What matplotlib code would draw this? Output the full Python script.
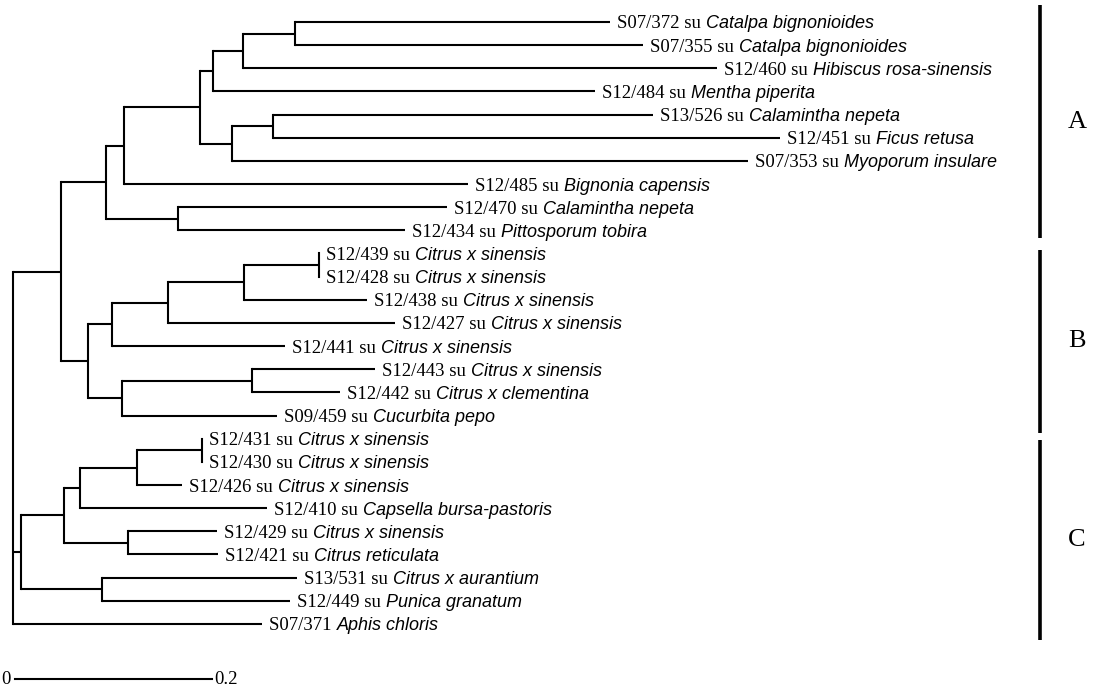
import matplotlib
matplotlib.use("Agg")
import matplotlib.pyplot as plt

# leaves, top to bottom
isolates = [
    "S07/372 su", "S07/355 su", "S12/460 su", "S12/484 su", "S13/526 su",
    "S12/451 su", "S07/353 su", "S12/485 su", "S12/470 su", "S12/434 su",
    "S12/439 su", "S12/428 su", "S12/438 su", "S12/427 su", "S12/441 su",
    "S12/443 su", "S12/442 su", "S09/459 su",
    "S12/431 su", "S12/430 su", "S12/426 su", "S12/410 su", "S12/429 su",
    "S12/421 su", "S13/531 su", "S12/449 su", "S07/371",
]
hosts = [
    "Catalpa bignonioides", "Catalpa bignonioides", "Hibiscus rosa-sinensis",
    "Mentha piperita", "Calamintha nepeta", "Ficus retusa", "Myoporum insulare",
    "Bignonia capensis", "Calamintha nepeta", "Pittosporum tobira",
    "Citrus x sinensis", "Citrus x sinensis", "Citrus x sinensis",
    "Citrus x sinensis", "Citrus x sinensis", "Citrus x sinensis",
    "Citrus x clementina", "Cucurbita pepo",
    "Citrus x sinensis", "Citrus x sinensis", "Citrus x sinensis",
    "Capsella bursa-pastoris", "Citrus x sinensis", "Citrus reticulata",
    "Citrus x aurantium", "Punica granatum", "Aphis chloris",
]
# distance from root to each tip
tip_depth = [
    0.6061, 0.6396, 0.7147, 0.5909, 0.6497, 0.7787, 0.7462, 0.4619, 0.4406, 0.3980,
    0.3107, 0.3107, 0.3594, 0.3878, 0.2761, 0.3675, 0.3320, 0.2680,
    0.1919, 0.1919, 0.1716, 0.2579, 0.2071, 0.2081, 0.2883, 0.2812, 0.2528,
]

# internal nodes: (name, depth, children) -- children are leaf indices or node names
nodes = [
    ("n_cat", 0.2863, [0, 1]),
    ("n_hib", 0.2335, ["n_cat", 2]),
    ("n_men", 0.2030, ["n_hib", 3]),
    ("n_fic", 0.2640, [4, 5]),
    ("n_myo", 0.2223, ["n_fic", 6]),
    ("n_a2", 0.1898, ["n_men", "n_myo"]),
    ("n_big", 0.1127, ["n_a2", 7]),
    ("n_pit", 0.1675, [8, 9]),
    ("n_A", 0.0944, ["n_big", "n_pit"]),
    ("n_439", 0.3107, [10, 11]),
    ("n_438", 0.2345, ["n_439", 12]),
    ("n_427", 0.1574, ["n_438", 13]),
    ("n_441", 0.1005, ["n_427", 14]),
    ("n_443", 0.2426, [15, 16]),
    ("n_459", 0.1107, ["n_443", 17]),
    ("n_B", 0.0761, ["n_441", "n_459"]),
    ("n_AB", 0.0487, ["n_A", "n_B"]),
    ("n_431", 0.1919, [18, 19]),
    ("n_426", 0.1259, ["n_431", 20]),
    ("n_410", 0.0680, ["n_426", 21]),
    ("n_429", 0.1168, [22, 23]),
    ("n_c1", 0.0518, ["n_410", "n_429"]),
    ("n_531", 0.0904, [24, 25]),
    ("n_C", 0.0081, ["n_c1", "n_531"]),
    ("root", 0.0, ["n_AB", "n_C", 26]),
]

clade_names = ["A", "B", "C"]
clade_spans = [(-0.73, 9.33), (9.85, 17.75), (18.06, 26.7)]

scale_len = 0.2

serif = "Liberation Serif"
sans = "Liberation Sans"
lw = 1.5

fig = plt.figure(figsize=(10.94, 6.90), dpi=100)
ax = fig.add_axes([0, 0, 1, 1])
ax.set_xlim(-0.0132, 1.0975)
ax.set_ylim(28.855, -0.95)
ax.axis("off")

pos = {}  # name/leaf -> (depth, y)
for i, d in enumerate(tip_depth):
    pos[i] = (d, i)

for name, depth, children in nodes:
    ys = [pos[c][1] for c in children]
    for c in children:
        cx, cy = pos[c]
        ax.plot([depth, cx], [cy, cy], color="black", lw=lw, solid_capstyle="butt")
    ax.plot([depth, depth], [min(ys), max(ys)], color="black", lw=lw,
            solid_capstyle="projecting")
    pos[name] = (depth, (min(ys) + max(ys)) / 2)

for i, (iso, host) in enumerate(zip(isolates, hosts)):
    t1 = ax.annotate(iso + " ", xy=(tip_depth[i], i), xytext=(5, 0),
                     textcoords="offset points", va="center_baseline", ha="left",
                     fontsize=13.5, family=serif)
    ax.annotate(host, xy=(1, i), xycoords=(t1, "data"), xytext=(0.5, 0),
                textcoords="offset points", va="center_baseline", ha="left",
                fontsize=13, family=sans, style="italic")

bar_x = 1.0426
for name, (y0, y1) in zip(clade_names, clade_spans):
    ax.plot([bar_x, bar_x], [y0, y1], color="black", lw=2.6, solid_capstyle="butt")
    ax.text(1.080, (y0 + y1) / 2, name, ha="center", va="center",
            fontsize=19, family=serif)

sy = 28.4
sx0 = 0.002
ax.plot([sx0, sx0 + scale_len], [sy, sy], color="black", lw=lw)
ax.text(sx0 - 0.004, sy, "0", ha="right", va="center", fontsize=13.5, family=serif)
ax.text(sx0 + scale_len + 0.002, sy, "0.2", ha="left", va="center",
        fontsize=13.5, family=serif)

fig.savefig("out.png", dpi=100)
